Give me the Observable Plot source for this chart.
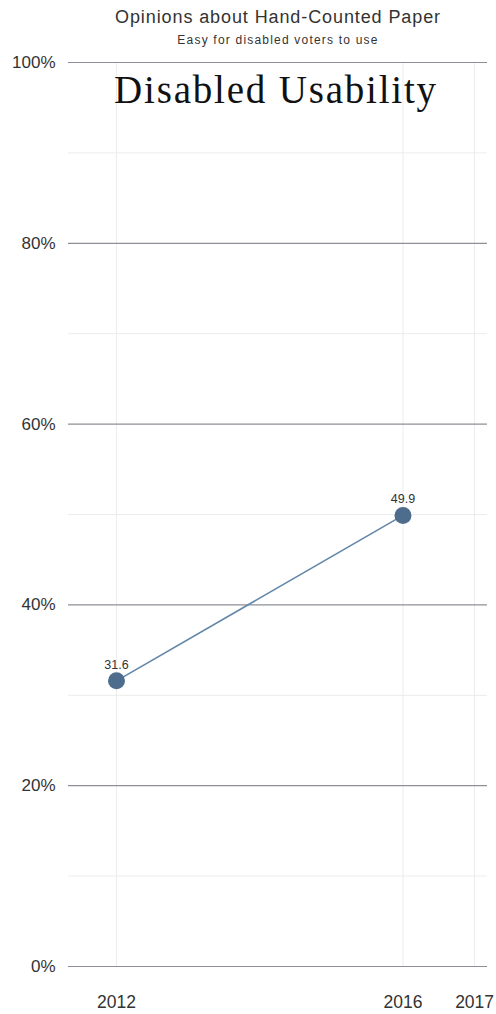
<!DOCTYPE html>
<html>
<head>
<meta charset="utf-8">
<script src="https://cdn.jsdelivr.net/npm/d3@7"></script>
<script src="https://cdn.jsdelivr.net/npm/@observablehq/plot@0.6"></script>
<style>
  html, body { margin: 0; padding: 0; background: #fff; }
  svg { display: block; }
</style>
</head>
<body>
<div id="chart"></div>
<script>
// Share who say hand-counted paper is easy for disabled voters to use
const years = [2012, 2016];
const values = [31.6, 49.9];
const xTicks = [2012, 2016, 2017];
const yMajor = [0, 20, 40, 60, 80, 100];
const yMinor = [10, 30, 50, 70, 90];

const title = "Opinions about Hand-Counted Paper";
const subtitle = "Easy for disabled voters to use";
const heading = "Disabled Usability";

const data = years.map((year, i) => ({year, value: values[i]}));

const sans = "Liberation Sans, Arial, sans-serif";
const serif = "Liberation Serif, Times New Roman, serif";
const pointColor = "#4e6d8c";
const lineColor = "#6387a8";

const chart = Plot.plot({
  width: 496,
  height: 1014,
  marginTop: 62,
  marginBottom: 48,
  marginLeft: 68,
  marginRight: 9,
  style: {fontFamily: sans, background: "#fff"},
  x: {domain: [2011.33, 2017.18], axis: null},
  y: {domain: [0, 100], axis: null},
  marks: [
    // minor grid
    Plot.ruleY(yMinor, {stroke: "#ececec", strokeWidth: 1}),
    Plot.ruleX(xTicks, {stroke: "#ececec", strokeWidth: 1}),
    // major grid
    Plot.ruleY(yMajor, {stroke: "#8f8f98", strokeWidth: 1.2}),
    // y tick labels
    Plot.text(yMajor, {
      x: 2011.33, y: d => d, text: d => `${d}%`, textAnchor: "end", dx: -13,
      fontSize: 17, fill: "#333"
    }),
    // x tick labels
    Plot.text(xTicks, {
      x: d => d, y: 0, text: d => String(d), dy: 41, lineAnchor: "bottom",
      fontSize: 17.5, fill: "#333"
    }),
    // series
    Plot.line(data, {x: "year", y: "value", stroke: lineColor, strokeWidth: 1.6}),
    Plot.dot(data, {x: "year", y: "value", r: 8.5, fill: pointColor, stroke: "none"}),
    Plot.text(data, {
      x: "year", y: "value", text: d => d.value.toFixed(1), dy: -12, lineAnchor: "bottom",
      fontSize: 12.5, fill: "#333"
    }),
    // titles
    Plot.text([title], {
      frameAnchor: "top", dy: -40, lineAnchor: "bottom", text: d => d,
      fontSize: 18, fill: "#333"
    }),
    Plot.text([subtitle], {
      frameAnchor: "top", dy: -19, lineAnchor: "bottom", text: d => d,
      fontSize: 12, fill: "#333"
    }),
    Plot.text([heading], {
      frameAnchor: "top", dx: -2, dy: 40, lineAnchor: "bottom", text: d => d,
      fontSize: 39, fontFamily: serif, fill: "#111"
    })
  ]
});

// Widen the header lines slightly
const spacing = new Map([[title, "0.9px"], [subtitle, "1.2px"], [heading, "1.8px"]]);
d3.select(chart).selectAll("text").each(function () {
  const s = spacing.get(this.textContent);
  if (s) this.setAttribute("letter-spacing", s);
});

document.getElementById("chart").appendChild(chart);
</script>
</body>
</html>
